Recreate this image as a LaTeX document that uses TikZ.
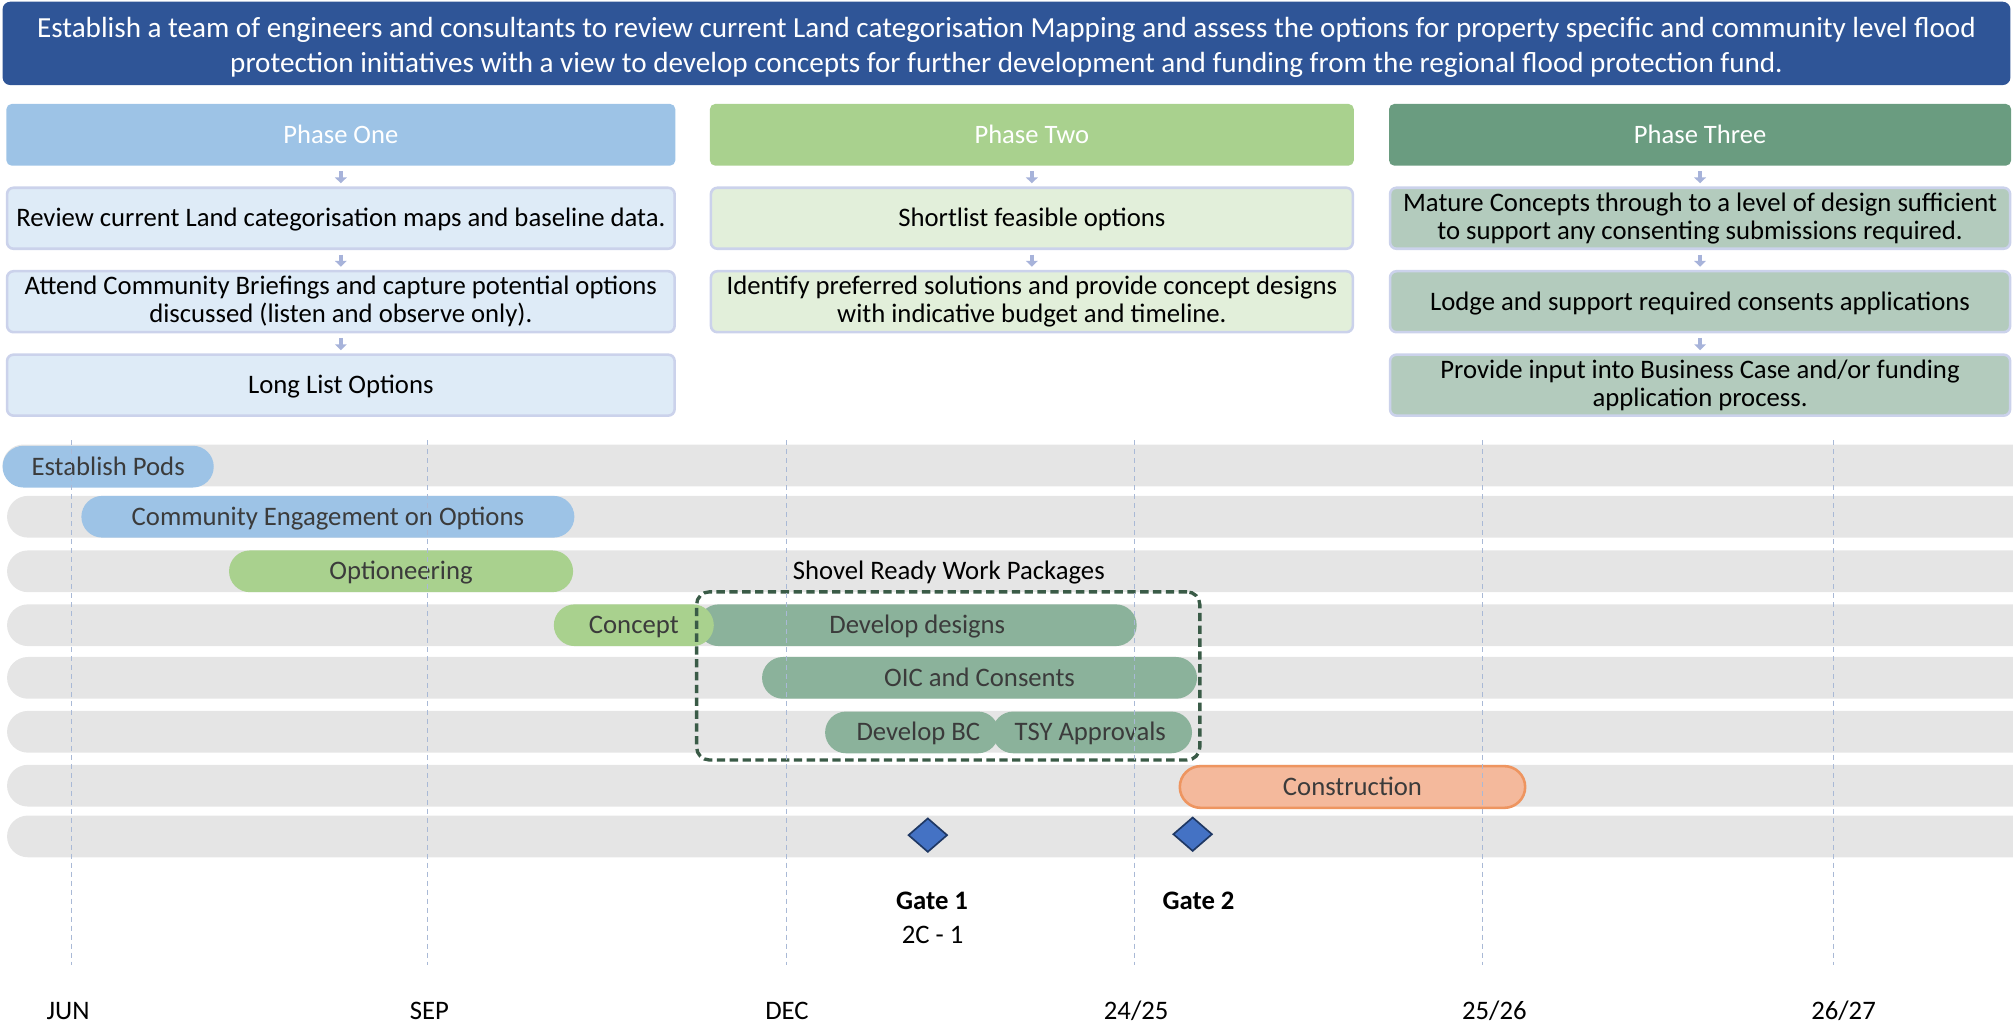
\documentclass[tikz,border=0pt]{standalone}
\usepackage{fontspec}
\setmainfont{Carlito}
\usetikzlibrary{arrows.meta,shapes.geometric}

\definecolor{headblue}{HTML}{2F5597}
\definecolor{pone}{HTML}{9DC3E6}
\definecolor{ponelt}{HTML}{DEEBF7}
\definecolor{ptwo}{HTML}{A9D18E}
\definecolor{ptwolt}{HTML}{E2EFDA}
\definecolor{pthree}{HTML}{6A9C80}
\definecolor{pthreelt}{HTML}{B3CBBD}
\definecolor{boxborder}{HTML}{CBD2EB}
\definecolor{arrowcol}{HTML}{A7B3DA}
\definecolor{rowgray}{HTML}{E5E5E5}
\definecolor{bargreen}{HTML}{8BB29B}
\definecolor{dashgreen}{HTML}{3A5B47}
\definecolor{constrfill}{HTML}{F4B99C}
\definecolor{constrdraw}{HTML}{EE9560}
\definecolor{gatefill}{HTML}{4472C4}
\definecolor{gatedraw}{HTML}{1F3864}
\definecolor{gridcol}{HTML}{A9B9D6}
\definecolor{bartext}{HTML}{3B3B3B}

\begin{document}
\begin{tikzpicture}[x=1pt,y=-1pt,
  every node/.style={inner sep=0pt, outer sep=0pt},
  bodyfont/.style={font=\fontsize{20.8}{22}\selectfont},
  oneline/.style={text height=14.5pt, text depth=1.5pt},
  titlebox/.style={fill=headblue, rounded corners=6pt},
  titletext/.style={text=white, align=center, font=\fontsize{22.7}{27.3}\selectfont},
  phasehead/.style={rounded corners=4pt, minimum height=48pt, text=white,
    font=\fontsize{20.7}{24}\selectfont, oneline},
  subbox/.style={draw=boxborder, line width=2pt, rounded corners=5pt,
    minimum height=47.5pt, align=center, bodyfont},
  flowarrow/.style={draw=arrowcol, line width=3.5pt, shorten <=4.5pt, shorten >=3.5pt,
    -{Triangle[width=9pt,length=4.5pt]}},
  rowbar/.style={fill=rowgray},
  bar/.style={rounded corners=16.25pt, minimum height=32.5pt, anchor=west,
    text=bartext, bodyfont, oneline},
  gridline/.style={draw=gridcol, line width=0.8pt, dash pattern=on 4pt off 3pt},
  gate/.style={diamond, draw=gatedraw, fill=gatefill, line width=1.3pt,
    minimum width=30pt, minimum height=26pt},
  gatelabel/.style={font=\fontsize{20.8}{22}\selectfont\bfseries, oneline},
  axislabel/.style={bodyfont, oneline},
]
\useasboundingbox (0,0) rectangle (1568,801.4);

% ---------- title ----------
\node[titlebox, minimum width=1564pt, minimum height=64.9pt] (title) at (784,33.8) {};
\node[titletext] (titletxt) at (784,36.6)
  {Establish a team of engineers and consultants to review current Land categorisation Mapping and assess the options for property specific and community level flood\\
   protection initiatives with a view to develop concepts for further development and funding from the regional flood protection fund.};

% ---------- phase headers ----------
\node[phasehead, fill=pone, minimum width=521pt] (p1) at (265.5,105) {Phase One};
\node[phasehead, fill=ptwo, minimum width=501.5pt] (p2) at (803.75,105) {Phase Two};
\node[phasehead, fill=pthree, minimum width=484.5pt] (p3) at (1324.25,105) {Phase Three};

% ---------- phase one boxes ----------
\node[subbox, oneline, fill=ponelt, minimum width=520pt] (p1a) at (265.5,170)
  {Review current Land categorisation maps and baseline data.};
\node[subbox, fill=ponelt, minimum width=520pt] (p1b) at (265.5,235)
  {Attend Community Briefings and capture potential options\\discussed (listen and observe only).};
\node[subbox, oneline, fill=ponelt, minimum width=520pt] (p1c) at (265.5,300)
  {Long List Options};

% ---------- phase two boxes ----------
\node[subbox, oneline, fill=ptwolt, minimum width=500pt] (p2a) at (803.75,170)
  {Shortlist feasible options};
\node[subbox, fill=ptwolt, minimum width=500pt] (p2b) at (803.75,235)
  {Identify preferred solutions and provide concept designs\\with indicative budget and timeline.};

% ---------- phase three boxes ----------
\node[subbox, fill=pthreelt, minimum width=483pt] (p3a) at (1324.25,170)
  {Mature Concepts through to a level of design sufficient\\to support any consenting submissions required.};
\node[subbox, oneline, fill=pthreelt, minimum width=483pt] (p3b) at (1324.25,235)
  {Lodge and support required consents applications};
\node[subbox, fill=pthreelt, minimum width=483pt] (p3c) at (1324.25,300)
  {Provide input into Business Case and/or funding\\application process.};

% ---------- flow arrows ----------
\draw[flowarrow] (p1.south) -- (p1a.north);
\draw[flowarrow] (p1a.south) -- (p1b.north);
\draw[flowarrow] (p1b.south) -- (p1c.north);
\draw[flowarrow] (p2.south) -- (p2a.north);
\draw[flowarrow] (p2a.south) -- (p2b.north);
\draw[flowarrow] (p3.south) -- (p3a.north);
\draw[flowarrow] (p3a.south) -- (p3b.north);
\draw[flowarrow] (p3b.south) -- (p3c.north);

% ---------- timeline background rows ----------
\begin{scope}
\clip (0,0) rectangle (1568,801.4);
\foreach \yc/\xl in {362.5/2, 402.5/5.5, 445/5.5, 487/5.5, 528/5.5, 570/5.5, 612/5.5, 651.5/5.5}{
  \fill[rowbar, rounded corners=16.25pt] (\xl,\yc-16.25) rectangle (1600,\yc+16.25);
}
\end{scope}

% ---------- bars ----------
\node[bar, fill=pone, minimum width=164.5pt] (pods) at (2,363.5) {Establish Pods};
\node[bar, fill=pone, minimum width=384pt] (engage) at (63.4,402.5) {Community Engagement on Options};
\node[bar, fill=ptwo, minimum width=268pt] (option) at (178.4,445) {Optioneering};
\node[bodyfont, oneline] (srwp) at (739,444.5) {Shovel Ready Work Packages};
\node[bar, fill=bargreen, minimum width=341.8pt] (designs) at (543.6,487) {Develop designs};
\node[bar, fill=ptwo, minimum width=124.6pt] (concept) at (431.4,487) {Concept};
\node[bar, fill=bargreen, minimum width=338.8pt] (oic) at (593.6,528) {OIC and Consents};
\node[bar, fill=bargreen, minimum width=155.5pt] (tsy) at (773,570.5) {\hspace*{-3pt}TSY Approvals};
\node[bar, fill=bargreen, minimum width=135.3pt] (devbc) at (642.7,570.5) {\hspace*{10pt}Develop BC};
\node[bar, fill=constrfill, draw=constrdraw, line width=2pt, minimum width=269pt] (constr) at (919,613) {Construction};

% ---------- dashed group ----------
\node[draw=dashgreen, line width=2.6pt, dash pattern=on 6.5pt off 3.5pt, rounded corners=10pt,
  minimum width=392pt, minimum height=131pt] (group) at (738.6,526.5) {};

% ---------- gates ----------
\node[gate] (g1) at (722.7,650.5) {};
\node[gate] (g2) at (929,649.8) {};
\node[gatelabel] (g1l) at (726,702) {Gate 1};
\node[bodyfont, oneline] (g1s) at (726.5,728.5) {2C - 1};
\node[gatelabel] (g2l) at (933.6,702) {Gate 2};

% ---------- grid lines ----------
\foreach \gx in {56,333,613,884,1155,1428}{
  \draw[gridline] (\gx,343) -- (\gx,752);
}

% ---------- axis labels ----------
\node[axislabel] (jun) at (53,787.5) {JUN};
\node[axislabel] (sep) at (334.5,787.5) {SEP};
\node[axislabel] (dec) at (613,787.5) {DEC};
\node[axislabel] (y2425) at (885,787.5) {24/25};
\node[axislabel] (y2526) at (1164,787.5) {25/26};
\node[axislabel] (y2627) at (1436,787.5) {26/27};
\end{tikzpicture}
\end{document}
